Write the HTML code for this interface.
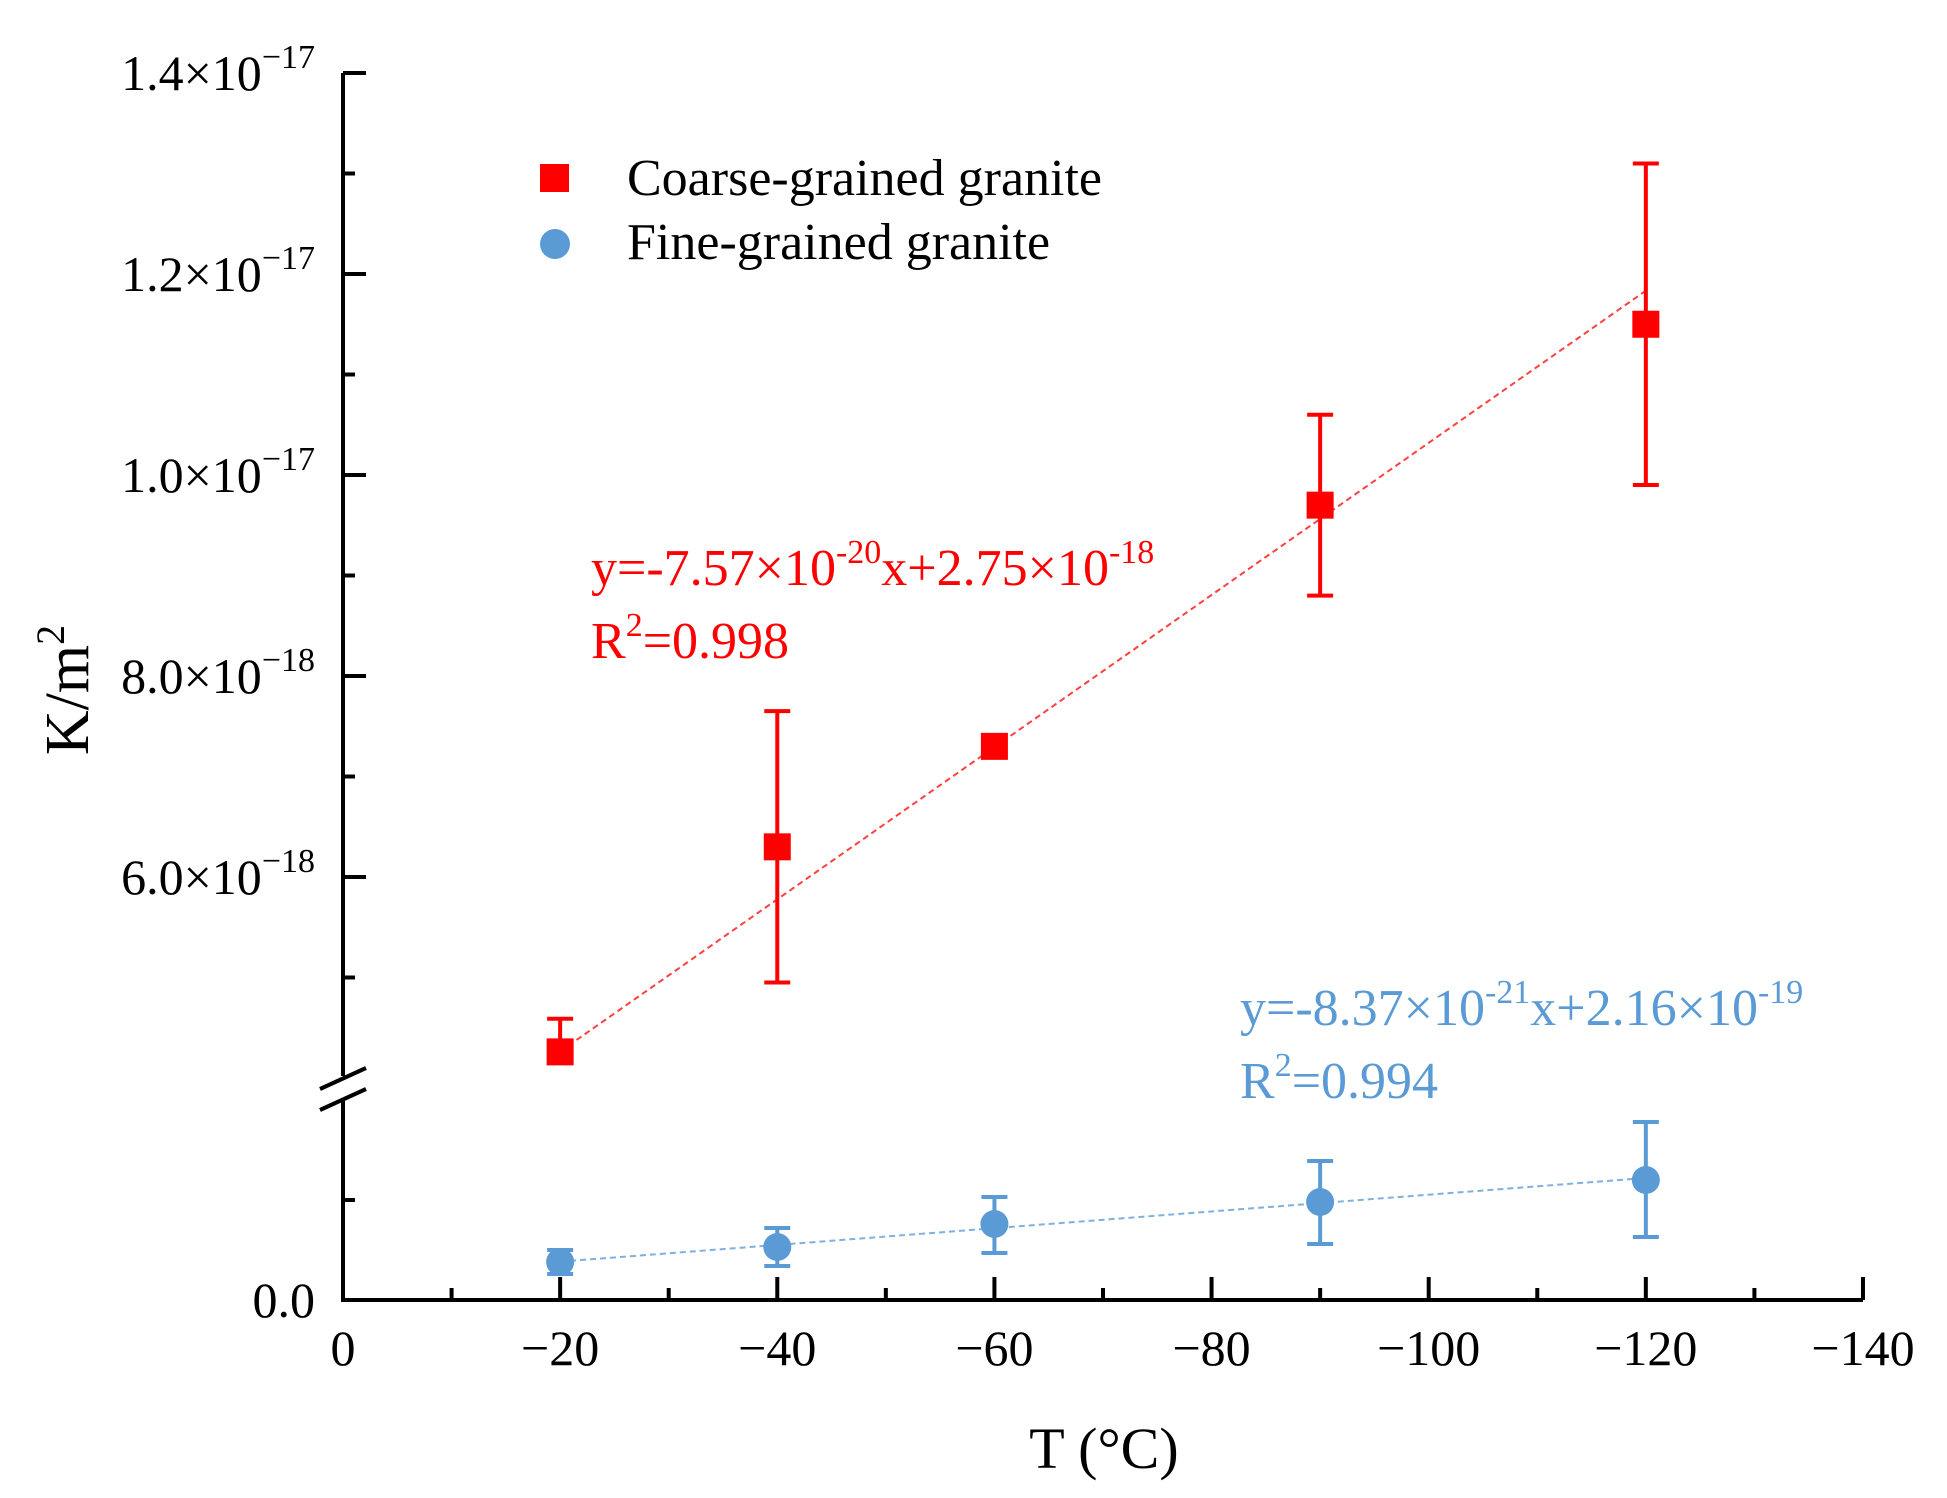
<!DOCTYPE html>
<html><head><meta charset="utf-8"><style>
html,body{margin:0;padding:0;background:#fff;}
svg text{font-family:"Liberation Serif",serif;}
</style></head><body>
<svg id="chart" width="1947" height="1493" viewBox="0 0 1947 1493" xmlns="http://www.w3.org/2000/svg">
<g id="axes"></g>
<g id="marks"></g>
<g>
<rect x="540" y="164" width="29" height="28" fill="#ff0000"/>
<text x="627" y="195" font-size="52" fill="#000">Coarse-grained granite</text>
<circle cx="555" cy="244" r="15" fill="#5b9bd5"/>
<text x="627" y="259" font-size="52" fill="#000">Fine-grained granite</text>
</g>
<g fill="#ff0000" font-size="52">
<text x="591" y="585">y=-7.57×10<tspan dy="-22" font-size="34">-20</tspan><tspan dy="22">x+2.75×10</tspan><tspan dy="-22" font-size="34">-18</tspan></text>
<text x="591" y="658">R<tspan dy="-22" font-size="34">2</tspan><tspan dy="22">=0.998</tspan></text>
</g>
<g fill="#5b9bd5" font-size="52">
<text x="1240" y="1025">y=-8.37×10<tspan dy="-22" font-size="34">-21</tspan><tspan dy="22">x+2.16×10</tspan><tspan dy="-22" font-size="34">-19</tspan></text>
<text x="1240" y="1098">R<tspan dy="-22" font-size="34">2</tspan><tspan dy="22">=0.994</tspan></text>
</g>
<text transform="translate(88,690) rotate(-90)" text-anchor="middle" font-size="62" fill="#000">K/m<tspan dy="-24" font-size="40">2</tspan></text>
<text x="1104" y="1468" text-anchor="middle" font-size="58" fill="#000">T (°C)</text>
</svg>
<script>
const temps = [-20, -40, -60, -90, -120];
const coarseVals = [4.26, 6.3, 7.3, 9.7, 11.5];
const coarseHi = [4.59, 7.65, 7.3, 10.6, 13.1];
const coarseLo = [4.26, 4.95, 7.3, 8.8, 9.9];
const fineVals = [0.38, 0.53, 0.76, 0.98, 1.2];
const fineHi = [0.5, 0.72, 1.03, 1.39, 1.78];
const fineLo = [0.26, 0.34, 0.47, 0.56, 0.63];
const coarseFit = [-0.0757, 2.75];
const fineFit = [-0.00837, 0.216];
const xTicks = [0, -20, -40, -60, -80, -100, -120, -140];
const xTickLabels = ['0', '\u221220', '\u221240', '\u221260', '\u221280', '\u2212100', '\u2212120', '\u2212140'];
const yUpperTicks = [14, 12, 10, 8, 6];
const yUpperLabels = [['1.4','17'], ['1.2','17'], ['1.0','17'], ['8.0','18'], ['6.0','18']];
const yUpperMinor = [13, 11, 9, 7, 5];
const yLowerMinor = [1];

const NS = 'http://www.w3.org/2000/svg';
const X0 = 343, XS = 10.857;
const xS = t => X0 + (-t) * XS;
const yU = v => 73 + (14 - v) * 100.5;
const yL = v => 1300 - v * 100;
function mk(tag, attrs, parent) {
  const e = document.createElementNS(NS, tag);
  for (const k in attrs) e.setAttribute(k, attrs[k]);
  parent.appendChild(e);
  return e;
}
const axes = document.getElementById('axes');
const marks = document.getElementById('marks');
const black = {stroke: '#000', 'stroke-width': 4, fill: 'none'};

let e = mk('line', Object.assign({x1: X0, y1: 73, x2: X0, y2: 1076}, black), axes);
 
e = mk('line', Object.assign({x1: X0, y1: 1099, x2: X0, y2: 1302}, black), axes);
 
e = mk('line', Object.assign({x1: X0 - 2, y1: 1300, x2: xS(-140), y2: 1300}, black), axes);
 
e = mk('path', {d: 'M320 1089 L366 1068 M320 1110 L366 1089', stroke: '#000', 'stroke-width': 4, fill: 'none'}, axes);
 

xTicks.forEach((t, i) => {
  const x = xS(t);
  if (i > 0) {
    const tk = mk('line', Object.assign({x1: x, y1: 1300, x2: x, y2: 1277}, black), axes);
     
  }
  const lb = mk('text', {x: x, y: 1365, 'text-anchor': 'middle', 'font-size': 50, fill: '#000'}, axes);
  lb.textContent = xTickLabels[i];
   
  if (i < xTicks.length - 1) {
    const mx = xS(t - 10);
    const mt = mk('line', Object.assign({x1: mx, y1: 1300, x2: mx, y2: 1288}, black), axes);
     
  }
});
yUpperTicks.forEach((v, i) => {
  const y = yU(v);
  const tk = mk('line', Object.assign({x1: X0, y1: y, x2: X0 + 23, y2: y}, black), axes);
   
  const lb = mk('text', {x: 315, y: y + 17, 'text-anchor': 'end', 'font-size': 50, fill: '#000'}, axes);
   
  const a = document.createElementNS(NS, 'tspan'); a.textContent = yUpperLabels[i][0] + '×10'; lb.appendChild(a);
  const b = document.createElementNS(NS, 'tspan'); b.setAttribute('dy', -22); b.setAttribute('font-size', 34); b.textContent = '\u2212' + yUpperLabels[i][1]; lb.appendChild(b);
});
yUpperMinor.forEach(v => {
  const tk = mk('line', Object.assign({x1: X0, y1: yU(v), x2: X0 + 12, y2: yU(v)}, black), axes);
   
});
yLowerMinor.forEach(v => {
  const tk = mk('line', Object.assign({x1: X0, y1: yL(v), x2: X0 + 12, y2: yL(v)}, black), axes);
   
});
e = mk('text', {x: 315, y: 1317, 'text-anchor': 'end', 'font-size': 50, fill: '#000'}, axes);
e.textContent = '0.0';
 

function fitLine(fit, yfn, color, name) {
  const t1 = temps[0], t2 = temps[temps.length - 1];
  const l = mk('line', {x1: xS(t1), y1: yfn(fit[0] * t1 + fit[1]), x2: xS(t2), y2: yfn(fit[0] * t2 + fit[1]), stroke: color, 'stroke-width': 2, 'stroke-dasharray': '6 4', fill: 'none'}, marks);
   
}
fitLine(coarseFit, yU, '#ff4040', 'coarse-fit-line');
fitLine(fineFit, yL, '#7fb0e0', 'fine-fit-line');

function errBar(x, yh, yl, color) {
  const g = mk('path', {d: `M${x} ${yh} L${x} ${yl} M${x-13} ${yh} L${x+13} ${yh} M${x-13} ${yl} L${x+13} ${yl}`, stroke: color, 'stroke-width': 4, fill: 'none'}, marks);
   
}
temps.forEach((t, i) => {
  const x = xS(t);
  errBar(x, yU(coarseHi[i]), yU(coarseLo[i]), '#ff0000');
  const r = mk('rect', {x: x - 13.5, y: yU(coarseVals[i]) - 13.5, width: 27, height: 27, fill: '#ff0000'}, marks);
   
  errBar(x, yL(fineHi[i]), yL(fineLo[i]), '#5b9bd5');
  const c = mk('circle', {cx: x, cy: yL(fineVals[i]), r: 14, fill: '#5b9bd5'}, marks);
   
});
</script>
</body></html>
